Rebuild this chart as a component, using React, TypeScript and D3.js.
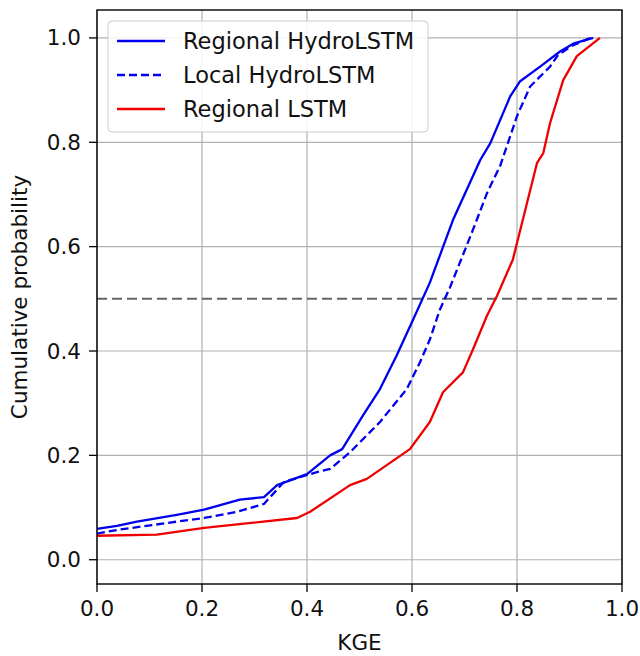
import React from 'react'
import * as d3 from 'd3'

// KGE values and cumulative probabilities
const regionalHydroKge = [0, 0.038, 0.076, 0.152, 0.204, 0.272, 0.318, 0.343, 0.4, 0.444, 0.467, 0.507, 0.539, 0.571, 0.602, 0.634, 0.678, 0.73, 0.749, 0.787, 0.806, 0.844, 0.882, 0.907, 0.945]
const regionalHydroProb = [0.059, 0.065, 0.073, 0.086, 0.096, 0.115, 0.12, 0.143, 0.164, 0.2, 0.212, 0.277, 0.327, 0.392, 0.46, 0.531, 0.651, 0.766, 0.798, 0.888, 0.917, 0.945, 0.974, 0.989, 1.0]

const localHydroKge = [0, 0.038, 0.152, 0.204, 0.267, 0.318, 0.356, 0.419, 0.444, 0.482, 0.539, 0.59, 0.615, 0.634, 0.653, 0.672, 0.716, 0.743, 0.768, 0.8, 0.825, 0.863, 0.878, 0.905, 0.94]
const localHydroProb = [0.05, 0.057, 0.073, 0.08, 0.092, 0.107, 0.149, 0.168, 0.174, 0.206, 0.264, 0.327, 0.378, 0.422, 0.479, 0.521, 0.632, 0.703, 0.755, 0.85, 0.907, 0.945, 0.967, 0.985, 1.0]

const regionalLstmKge = [0, 0.114, 0.204, 0.381, 0.406, 0.482, 0.514, 0.596, 0.634, 0.659, 0.697, 0.716, 0.743, 0.762, 0.792, 0.811, 0.838, 0.85, 0.863, 0.888, 0.914, 0.958]
const regionalLstmProb = [0.046, 0.048, 0.061, 0.08, 0.092, 0.143, 0.155, 0.212, 0.264, 0.321, 0.359, 0.403, 0.468, 0.506, 0.575, 0.651, 0.76, 0.779, 0.837, 0.919, 0.965, 1.0]

const tickValues = [0, 0.2, 0.4, 0.6, 0.8, 1.0]

const series = [
  { name: 'Regional HydroLSTM', kge: regionalHydroKge, prob: regionalHydroProb, color: '#0000ee', dash: null },
  { name: 'Local HydroLSTM', kge: localHydroKge, prob: localHydroProb, color: '#0000ee', dash: '8,4' },
  { name: 'Regional LSTM', kge: regionalLstmKge, prob: regionalLstmProb, color: '#ee0000', dash: null },
]

const font = 'DejaVu Sans, sans-serif'
const fontSize = 21.5

export default function App() {
  const width = 640
  const height = 656
  const margin = { left: 97, right: 18, top: 10, bottom: 72 }
  const x = d3.scaleLinear().domain([0, 1]).range([margin.left, width - margin.right])
  const y = d3.scaleLinear().domain([-0.0465, 1.0535]).range([height - margin.bottom, margin.top])
  const line = d3
    .line<[number, number]>()
    .x((d) => x(d[0]))
    .y((d) => y(d[1]))

  const [x0, x1] = x.range()
  const [yb, yt] = y.range()

  return (
    <svg width={width} height={height} style={{ position: 'absolute', left: 0, top: 0 }} fontFamily={font}>
      <rect width={width} height={height} fill='white' />
      {/* grid */}
      {tickValues.map((t) => (
        <g key={'g' + t}>
          <line x1={x(t)} x2={x(t)} y1={yt} y2={yb} stroke='#b0b0b0' strokeWidth={1.2} />
          <line x1={x0} x2={x1} y1={y(t)} y2={y(t)} stroke='#b0b0b0' strokeWidth={1.2} />
        </g>
      ))}
      {/* median line */}
      <line x1={x0} x2={x1} y1={y(0.5)} y2={y(0.5)} stroke='#666' strokeWidth={2} strokeDasharray='10,5' />
      {/* curves */}
      {series.map((s) => (
        <path
          key={s.name}
          d={line(s.kge.map((k, i) => [k, s.prob[i]] as [number, number])) || ''}
          fill='none'
          stroke={s.color}
          strokeWidth={2.3}
          strokeDasharray={s.dash || undefined}
          strokeLinejoin='round'
        />
      ))}
      {/* axes frame */}
      <rect x={x0} y={yt} width={x1 - x0} height={yb - yt} fill='none' stroke='black' strokeWidth={1.4} />
      {tickValues.map((t) => (
        <g key={'t' + t} fontSize={fontSize} fill='#111'>
          <line x1={x(t)} x2={x(t)} y1={yb} y2={yb + 8} stroke='black' strokeWidth={1.3} />
          <text x={x(t)} y={yb + 26} textAnchor='middle' dominantBaseline='middle'>
            {t.toFixed(1)}
          </text>
          <line x1={x0 - 8} x2={x0} y1={y(t)} y2={y(t)} stroke='black' strokeWidth={1.3} />
          <text x={x0 - 16} y={y(t)} textAnchor='end' dominantBaseline='central'>
            {t.toFixed(1)}
          </text>
        </g>
      ))}
      <text x={x(0.5)} y={644} textAnchor='middle' dominantBaseline='middle' fontSize={fontSize} fill='#111'>
        KGE
      </text>
      <text
        transform={`translate(21, ${(yt + yb) / 2}) rotate(-90)`}
        textAnchor='middle'
        dominantBaseline='middle'
        fontSize={fontSize}
        fill='#111'
      >
        Cumulative probability
      </text>
      {/* legend */}
      <g>
        <rect x={108} y={21} width={320} height={111} rx={4} fill='white' fillOpacity={0.85} stroke='#cccccc' strokeWidth={1} />
        {series.map((s, i) => (
          <g key={'l' + s.name} transform={`translate(0, ${41 + i * 34})`}>
            <line x1={117} x2={165} y1={0} y2={0} stroke={s.color} strokeWidth={2.3} strokeDasharray={s.dash || undefined} />
            <text x={183} y={0} dominantBaseline='central' fontSize={22.5} fill='#111'>
              {s.name}
            </text>
          </g>
        ))}
      </g>
    </svg>
  )
}
